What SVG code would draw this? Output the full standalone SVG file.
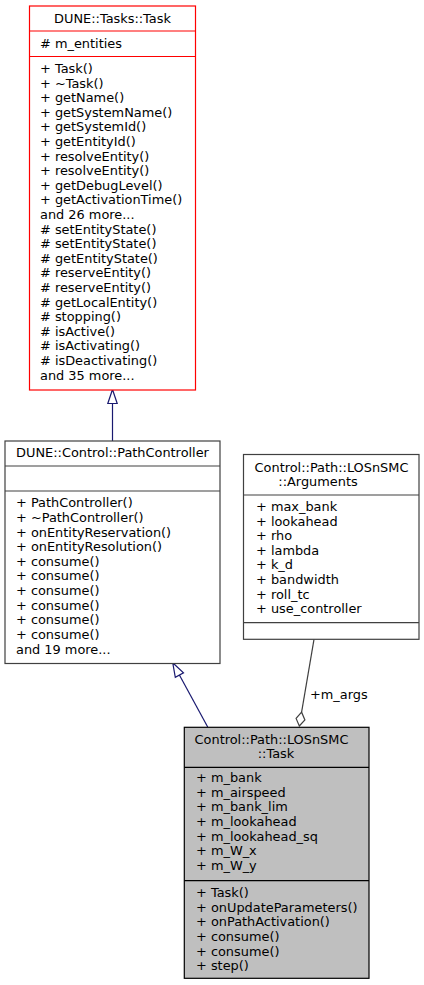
<svg xmlns="http://www.w3.org/2000/svg" width="424" height="985" viewBox="0 0 424 985">
<style>
text{font-family:"DejaVu Sans","Liberation Sans",sans-serif;font-size:12.9px;fill:#000}
.c{text-anchor:middle}
.box{fill:#fff;stroke:#404040;stroke-width:1.2}
.red{fill:#fff;stroke:#ff0000;stroke-width:1.2}
.cur{fill:#bfbfbf;stroke:#000;stroke-width:1.2}
.sepr{stroke:#ff0000;stroke-width:1.2}
.sepg{stroke:#404040;stroke-width:1.2}
.sepk{stroke:#000;stroke-width:1.2}
.inh{stroke:#191970;stroke-width:1.2;fill:none}
.inhh{stroke:#191970;stroke-width:1.2;fill:#fff}
.agg{stroke:#404040;stroke-width:1.2;fill:none}
.aggh{stroke:#404040;stroke-width:1.2;fill:#fff}
</style>
<rect width="424" height="985" fill="#fff"/>
<g id="connectors">
<line class="inh" x1="112.5" y1="441" x2="112.5" y2="403.5"/>
<polygon class="inhh" points="112.5,389.5 117.2,403.5 107.8,403.5"/>
<line class="inh" x1="207.7" y1="727" x2="179.4" y2="675"/>
<polygon class="inhh" points="172.7,662.7 183.5,672.8 175.3,677.3"/>
<line class="agg" x1="314" y1="639.3" x2="301.6" y2="712.2"/>
<polygon class="aggh" points="299.3,726 304.9,719.9 301.6,712.2 296.1,718.4"/>
<text x="310" y="698.8">+m_args</text>
</g>
<g id="node_tasks_task">
<rect class="red" x="29.5" y="6" width="166" height="384"/>
<line class="sepr" x1="29.5" y1="31" x2="195.5" y2="31"/>
<line class="sepr" x1="29.5" y1="56.5" x2="195.5" y2="56.5"/>
<text class="c" x="112.5" y="23">DUNE::Tasks::Task</text>
<text x="40" y="48"># m_entities</text>
<text x="40" y="73">+ Task()</text>
<text x="40" y="87.6">+ ~Task()</text>
<text x="40" y="102.2">+ getName()</text>
<text x="40" y="116.8">+ getSystemName()</text>
<text x="40" y="131.4">+ getSystemId()</text>
<text x="40" y="146">+ getEntityId()</text>
<text x="40" y="160.6">+ resolveEntity()</text>
<text x="40" y="175.2">+ resolveEntity()</text>
<text x="40" y="189.8">+ getDebugLevel()</text>
<text x="40" y="204.4">+ getActivationTime()</text>
<text x="40" y="219">and 26 more...</text>
<text x="40" y="233.6"># setEntityState()</text>
<text x="40" y="248.2"># setEntityState()</text>
<text x="40" y="262.8"># getEntityState()</text>
<text x="40" y="277.4"># reserveEntity()</text>
<text x="40" y="292"># reserveEntity()</text>
<text x="40" y="306.6"># getLocalEntity()</text>
<text x="40" y="321.2"># stopping()</text>
<text x="40" y="335.8"># isActive()</text>
<text x="40" y="350.4"># isActivating()</text>
<text x="40" y="365"># isDeactivating()</text>
<text x="40" y="379.6">and 35 more...</text>
</g>
<g id="node_pathcontroller">
<rect class="box" x="5" y="441" width="215" height="222.5"/>
<line class="sepg" x1="5" y1="466" x2="220" y2="466"/>
<line class="sepg" x1="5" y1="491" x2="220" y2="491"/>
<text class="c" x="112.5" y="457">DUNE::Control::PathController</text>
<text x="16" y="507.2">+ PathController()</text>
<text x="16" y="521.85">+ ~PathController()</text>
<text x="16" y="536.5">+ onEntityReservation()</text>
<text x="16" y="551.15">+ onEntityResolution()</text>
<text x="16" y="565.8">+ consume()</text>
<text x="16" y="580.45">+ consume()</text>
<text x="16" y="595.1">+ consume()</text>
<text x="16" y="609.75">+ consume()</text>
<text x="16" y="624.4">+ consume()</text>
<text x="16" y="639.05">+ consume()</text>
<text x="16" y="653.7">and 19 more...</text>
</g>
<g id="node_arguments">
<rect class="box" x="243.5" y="454.5" width="175.5" height="184.8"/>
<line class="sepg" x1="243.5" y1="495" x2="419" y2="495"/>
<line class="sepg" x1="243.5" y1="622.7" x2="419" y2="622.7"/>
<text class="c" x="331.5" y="472">Control::Path::LOSnSMC</text>
<text class="c" x="318" y="486">::Arguments</text>
<text x="256" y="511">+ max_bank</text>
<text x="256" y="525.6">+ lookahead</text>
<text x="256" y="540.2">+ rho</text>
<text x="256" y="554.8">+ lambda</text>
<text x="256" y="569.4">+ k_d</text>
<text x="256" y="584">+ bandwidth</text>
<text x="256" y="598.6">+ roll_tc</text>
<text x="256" y="613.2">+ use_controller</text>
</g>
<g id="node_losnsmc_task">
<rect class="cur" x="184.3" y="727.3" width="184.7" height="251"/>
<line class="sepk" x1="184.3" y1="767.3" x2="369" y2="767.3"/>
<line class="sepk" x1="184.3" y1="880.7" x2="369" y2="880.7"/>
<text class="c" x="271.5" y="744">Control::Path::LOSnSMC</text>
<text class="c" x="276" y="758">::Task</text>
<text x="196" y="782">+ m_bank</text>
<text x="196" y="796.65">+ m_airspeed</text>
<text x="196" y="811.3">+ m_bank_lim</text>
<text x="196" y="825.95">+ m_lookahead</text>
<text x="196" y="840.6">+ m_lookahead_sq</text>
<text x="196" y="855.25">+ m_W_x</text>
<text x="196" y="869.9">+ m_W_y</text>
<text x="196" y="897">+ Task()</text>
<text x="196" y="911.65">+ onUpdateParameters()</text>
<text x="196" y="926.3">+ onPathActivation()</text>
<text x="196" y="940.95">+ consume()</text>
<text x="196" y="955.6">+ consume()</text>
<text x="196" y="970.25">+ step()</text>
</g>
</svg>
